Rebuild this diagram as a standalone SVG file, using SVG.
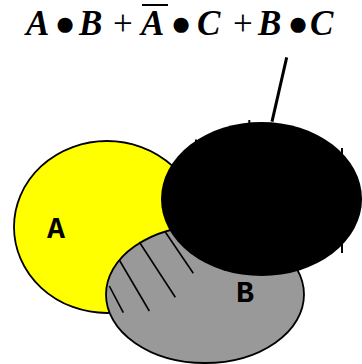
<svg xmlns="http://www.w3.org/2000/svg" width="362" height="364" viewBox="0 0 362 364">
<style>
.eq{font-family:"Liberation Serif","Times New Roman",serif;font-size:35px;fill:#000}
.v{font-weight:bold;font-style:italic}
.dot{font-size:35px}
.lbl{font-family:"Liberation Mono","Courier New",monospace;font-weight:bold;font-size:30px;fill:#000}
.hatch{stroke:#000;stroke-width:1.6;fill:none}
.tick{stroke:#000;stroke-width:2;fill:none}
</style>
<rect width="362" height="364" fill="#fff"/>
<g id="title">
<text class="eq" y="35"><tspan class="v" x="26">A</tspan><tspan class="v" x="79">B</tspan><tspan x="113">+</tspan><tspan class="v" x="141">A</tspan><tspan class="v" x="197">C</tspan><tspan x="233">+</tspan><tspan class="v" x="258">B</tspan><tspan class="v" x="310">C</tspan></text>
<text class="eq dot" y="35" text-anchor="middle"><tspan x="65">●</tspan><tspan x="181">●</tspan><tspan x="298">●</tspan></text>
<line x1="142" y1="5" x2="168" y2="5" stroke="#000" stroke-width="2"/>
</g>
<g id="A">
<ellipse cx="107" cy="227" rx="93" ry="86" fill="#ffff00" stroke="#000" stroke-width="1.8"/>
</g>
<g id="B">
<ellipse cx="205" cy="294.5" rx="99" ry="68.5" fill="#999999" stroke="#000" stroke-width="1.8"/>
<line class="hatch" x1="109.3" y1="286" x2="123.3" y2="312.7"/>
<line class="hatch" x1="119.3" y1="260" x2="149.3" y2="311"/>
<line class="hatch" x1="139.3" y1="242" x2="175.3" y2="297.3"/>
<line class="hatch" x1="165.3" y1="232" x2="193.3" y2="273.3"/>
</g>
<g id="C">
<ellipse cx="261.5" cy="199" rx="100.5" ry="77" fill="#000"/>
<line class="tick" x1="249.3" y1="120" x2="249.3" y2="124"/>
<line class="tick" x1="196" y1="139.5" x2="196" y2="143"/>
<line class="tick" x1="342" y1="148" x2="342" y2="156"/>
<line class="tick" x1="342" y1="242" x2="342" y2="253"/>
</g>
<g id="connectors">
<line x1="286.7" y1="57.3" x2="272" y2="121.7" stroke="#000" stroke-width="3"/>
</g>
<g id="labels">
<text class="lbl" x="47" y="238">A</text>
<text class="lbl" x="236" y="302">B</text>
</g>
</svg>
